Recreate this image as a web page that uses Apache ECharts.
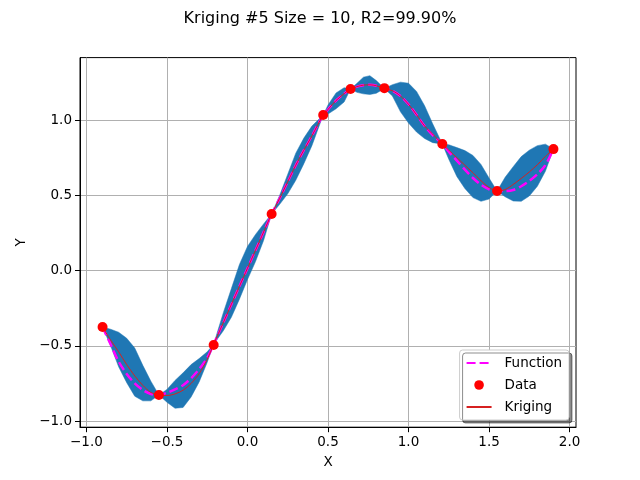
<!DOCTYPE html>
<html><head><meta charset="utf-8">
<script src="https://cdn.jsdelivr.net/npm/echarts@6/dist/echarts.min.js"></script>
<style>html,body{margin:0;padding:0;background:#fff}#c{width:640px;height:480px}</style>
</head><body><div id="c"></div>
<script>
const xs = [-0.9, -0.85, -0.8, -0.75, -0.7, -0.65, -0.6, -0.55,
  -0.5, -0.45, -0.4, -0.35, -0.3, -0.25, -0.21,
  -0.15, -0.1, -0.05, 0, 0.05, 0.1, 0.15,
  0.2, 0.25, 0.3, 0.35, 0.4, 0.47,
  0.5, 0.55, 0.6, 0.64,
  0.68, 0.72, 0.76, 0.8, 0.85,
  0.9, 0.95, 1.0, 1.05, 1.1, 1.15, 1.21,
  1.25, 1.3, 1.35, 1.4, 1.45, 1.5, 1.55,
  1.6, 1.65, 1.7, 1.75, 1.8, 1.85, 1.9];
const krigingY = [-0.375, -0.462, -0.54, -0.625, -0.70, -0.763, -0.81, -0.827,
  -0.83, -0.82, -0.795, -0.75, -0.685, -0.59, -0.49,
  -0.346, -0.225, -0.105, 0.015, 0.135, 0.256, 0.376,
  0.48, 0.59, 0.70, 0.80, 0.895, 1.033,
  1.07, 1.13, 1.175, 1.206,
  1.222, 1.232, 1.234, 1.228, 1.21,
  1.195, 1.16, 1.105, 1.035, 0.96, 0.907, 0.841,
  0.80, 0.75, 0.70, 0.65, 0.597, 0.552, 0.528,
  0.538, 0.572, 0.612, 0.655, 0.703, 0.758, 0.808];
const functionY = [-0.375, -0.49, -0.605, -0.687, -0.75, -0.794, -0.82, -0.827,
  -0.812, -0.79, -0.762, -0.715, -0.655, -0.58, -0.49,
  -0.346, -0.225, -0.105, 0.015, 0.135, 0.256, 0.376,
  0.48, 0.59, 0.70, 0.80, 0.895, 1.033,
  1.07, 1.13, 1.175, 1.206,
  1.222, 1.232, 1.234, 1.228, 1.21,
  1.195, 1.16, 1.105, 1.035, 0.96, 0.90, 0.841,
  0.79, 0.73, 0.67, 0.615, 0.57, 0.54, 0.528,
  0.528, 0.535, 0.56, 0.595, 0.64, 0.70, 0.808];
const upperY = [-0.375, -0.39, -0.41, -0.45, -0.515, -0.63, -0.735, -0.827,
  -0.79, -0.73, -0.68, -0.625, -0.585, -0.54, -0.49,
  -0.28, -0.12, 0.04, 0.16, 0.24, 0.31, 0.376,
  0.50, 0.64, 0.78, 0.88, 0.96, 1.033,
  1.10, 1.18, 1.215, 1.206,
  1.244, 1.285, 1.295, 1.262, 1.21,
  1.235, 1.252, 1.245, 1.19, 1.095, 0.975, 0.841,
  0.836, 0.817, 0.797, 0.765, 0.705, 0.615, 0.528,
  0.62, 0.69, 0.757, 0.80, 0.83, 0.84, 0.808];
const lowerY = [-0.375, -0.50, -0.64, -0.745, -0.835, -0.866, -0.866, -0.827,
  -0.875, -0.915, -0.91, -0.84, -0.74, -0.61, -0.49,
  -0.40, -0.31, -0.19, -0.06, 0.06, 0.20, 0.376,
  0.44, 0.51, 0.60, 0.71, 0.83, 1.033,
  1.04, 1.075, 1.12, 1.206,
  1.184, 1.174, 1.17, 1.178, 1.21,
  1.16, 1.055, 0.98, 0.92, 0.877, 0.85, 0.841,
  0.74, 0.625, 0.545, 0.485, 0.46, 0.475, 0.528,
  0.49, 0.462, 0.46, 0.495, 0.56, 0.66, 0.808];
const dataX = [-0.9, -0.55, -0.21, 0.15, 0.47, 0.64, 0.85, 1.21, 1.55, 1.9];
const dataY = [-0.375, -0.827, -0.495, 0.376, 1.033, 1.206, 1.212, 0.841, 0.528, 0.807];
const xTicks = [-1, -0.5, 0, 0.5, 1, 1.5, 2];
const yTicks = [-1, -0.5, 0, 0.5, 1];

const font = 'DejaVu Sans';
const fmt = v => (v < 0 ? '\u2212' : '') + Math.abs(v).toFixed(1);
const pairs = (a, b) => a.map((v, i) => [v, b[i]]);

const chart = echarts.init(document.getElementById('c'), null, {renderer: 'canvas'});
const axisBase = (ticks) => ({
  type: 'value',
  nameLocation: 'middle',
  nameTextStyle: {fontFamily: font, fontSize: 13.5, color: '#000'},
  axisLine: {show: true, onZero: false, lineStyle: {color: '#000', width: 1}},
  axisTick: {show: true, inside: false, length: 5, customValues: ticks, lineStyle: {color: '#000', width: 1}},
  axisLabel: {customValues: ticks, formatter: fmt, margin: 8, color: '#000', fontFamily: font, fontSize: 13.5},
  splitLine: {show: true, lineStyle: {color: '#b0b0b0', width: 1}}
});
const xAxis = Object.assign(axisBase(xTicks), {min: -1.04, max: 2.04, name: 'X', nameGap: 28});
const yAxis = Object.assign(axisBase(yTicks), {min: -1.041, max: 1.415, name: 'Y', nameGap: 52});

chart.setOption({
  animation: false,
  backgroundColor: '#fff',
  title: {text: 'Kriging #5 Size = 10, R2=99.90%', left: 'center', top: 6,
    textStyle: {fontFamily: font, fontSize: 16, fontWeight: 'normal', color: '#000'}},
  grid: {left: 80, right: 64, top: 57.6, bottom: 52.8, show: true, borderColor: '#000', borderWidth: 1},
  xAxis: xAxis,
  yAxis: yAxis,
  legend: {
    data: [
      {name: 'Function', itemStyle: {opacity: 0}},
      {name: 'Data'},
      {name: 'Kriging', itemStyle: {opacity: 0}}
    ],
    orient: 'vertical', right: 71, bottom: 60,
    padding: [6, 7, 6, 6], itemGap: 8, itemWidth: 25, itemHeight: 12,
    backgroundColor: '#ffffff', borderColor: '#cccccc', borderWidth: 1, borderRadius: 3,
    shadowColor: 'rgba(0,0,0,0.45)', shadowBlur: 0, shadowOffsetX: 3, shadowOffsetY: 3,
    textStyle: {fontFamily: font, fontSize: 13.5, color: '#000', padding: [0, 0, 0, 8]}
  },
  series: [
    {
      type: 'custom', name: 'band', silent: true, clip: false, z: 1,
      data: [[xs[0], upperY[0]]],
      renderItem: (params, api) => {
        if (params.dataIndex !== 0) return;
        const pts = [];
        for (let i = 0; i < xs.length; i++) pts.push(api.coord([xs[i], upperY[i]]));
        for (let i = xs.length - 1; i >= 0; i--) pts.push(api.coord([xs[i], lowerY[i]]));
        return {type: 'polygon', shape: {points: pts}, style: {fill: '#1f77b4', stroke: '#1f77b4', lineWidth: 0.5}};
      }
    },
    {
      type: 'line', name: 'Function', z: 2, data: pairs(xs, functionY), smooth: 0.3,
      symbol: 'none', color: '#ff00ff',
      lineStyle: {color: '#ff00ff', width: 2.5, type: [9, 4]}
    },
    {
      type: 'line', name: 'Data', z: 4, data: pairs(dataX, dataY),
      symbol: 'circle', symbolSize: 10, showSymbol: true, color: '#ff0000',
      itemStyle: {color: '#ff0000'},
      lineStyle: {width: 0, color: 'rgba(0,0,0,0)'}
    },
    {
      type: 'line', name: 'Kriging', z: 3, data: pairs(xs, krigingY), smooth: 0.3,
      symbol: 'none', color: '#d62020',
      lineStyle: {color: '#d62020', width: 1}
    }
  ]
});
</script></body></html>
